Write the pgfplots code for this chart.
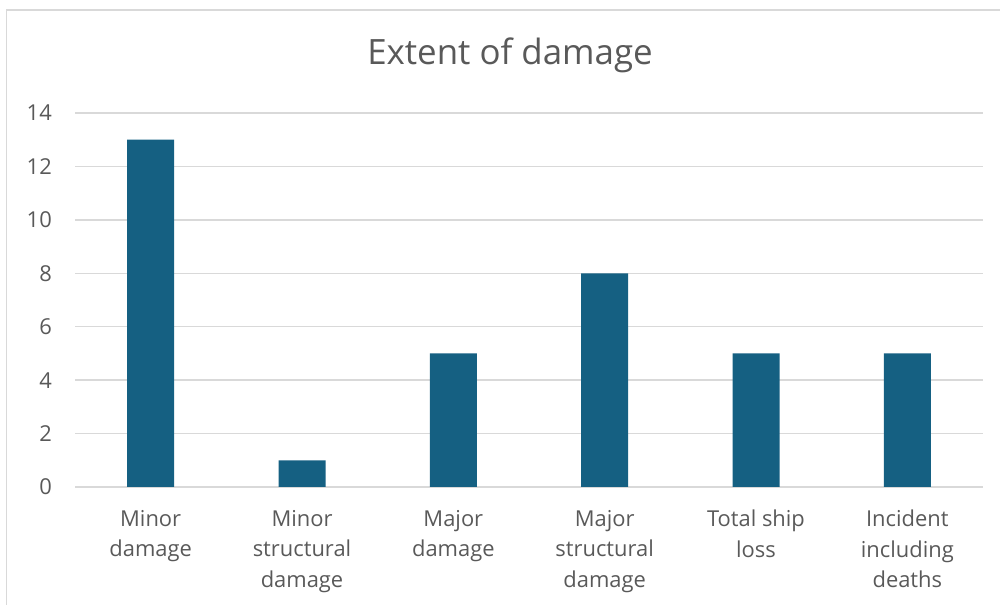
\documentclass[border=0pt]{standalone}
\usepackage{fontspec}
\setmainfont{Open Sans}
\usepackage{pgfplots}
\pgfplotsset{compat=1.18}
\definecolor{barc}{HTML}{156082}
\definecolor{txt}{HTML}{595959}
\definecolor{grd}{HTML}{D9D9D9}
\begin{document}
\begin{tikzpicture}[x=1bp,y=1bp]
\useasboundingbox (0,0) rectangle (1000,605);
\draw[grd, line width=1.5bp] (6.5,0) -- (6.5,595) -- (1000,595);
\node[text=txt, font=\fontsize{35}{40}\selectfont] at (510,550) {Extent of damage};
\begin{axis}[
  at={(75bp,118bp)}, anchor=south west,
  width=908bp, height=374bp, scale only axis,
  xmin=-0.5, xmax=5.5, ymin=0, ymax=14,
  ytick={0,2,...,14}, xtick={0,...,5},
  xticklabels={{Minor\\damage},{Minor\\structural\\damage},{Major\\damage},{Major\\structural\\damage},{Total ship\\loss},{Incident\\including\\deaths}},
  ymajorgrids, grid style={grd, line width=1.5bp},
  axis line style={draw=none}, major tick length=0pt,
  /pgf/number format/assume math mode=true,
  yticklabel style={text=txt, font=\fontsize{22}{25}\selectfont, anchor=east, inner sep=0pt, xshift=-23bp},
  xticklabel style={text=txt, font=\fontsize{22}{30.5}\selectfont, align=center, anchor=north, inner sep=0pt, yshift=-23bp},
  ybar, bar width=47bp,
]
\addplot[fill=barc, draw=none] coordinates {(0,13) (1,1) (2,5) (3,8) (4,5) (5,5)};
\end{axis}
\end{tikzpicture}
\end{document}
